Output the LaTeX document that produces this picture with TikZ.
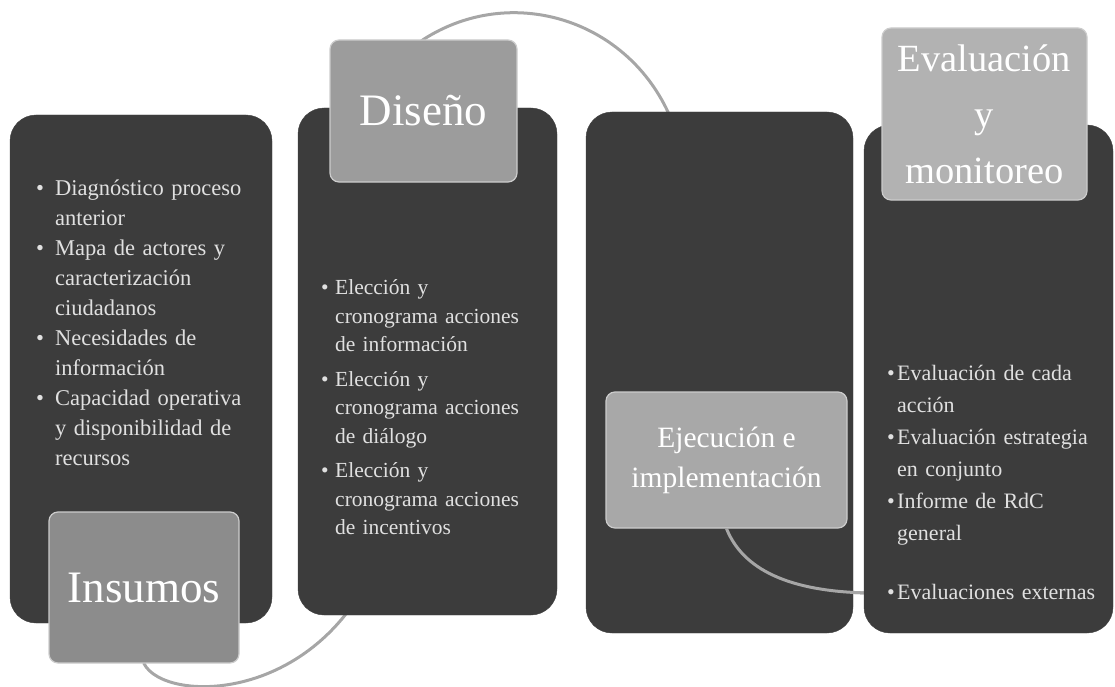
\documentclass[tikz,border=0pt]{standalone}
\usepackage{fontspec}
\setmainfont{Liberation Serif}
\usetikzlibrary{backgrounds}
\definecolor{boxgray}{HTML}{3C3C3C}
\definecolor{linkgray}{HTML}{A6A6A6}
\newcommand{\bul}[1]{\par\hangindent=#1\hangafter=1\noindent\makebox[#1][l]{\textbullet}}

\begin{document}
\begin{tikzpicture}[x=1pt,y=-1pt,
  panel/.style={draw=black!75,fill=boxgray,rounded corners=26pt,inner sep=0pt},
  tab/.style={draw=white!80!black,line width=1.2pt,rounded corners=9pt,inner sep=0pt,text=white,align=center},
  items/.style={anchor=base west,inner sep=0pt,text width=300pt,text=white!88!black},
  spiral/.style={draw=linkgray,line width=3pt}]
  \useasboundingbox (0,0) rectangle (1115,687);
  \node[panel,minimum width=262pt,minimum height=508pt] (insumosbox) at (141,369) {};
  \node[panel,minimum width=259pt,minimum height=507pt] (disenobox) at (427.5,361.5) {};
  \node[panel,minimum width=267pt,minimum height=521pt] (ejecucionbox) at (719.5,372.5) {};
  \node[tab,fill=black!45,minimum width=190pt,minimum height=151pt,font=\fontsize{45}{54}\selectfont] (insumos) at (144,587.5) {Insumos};
  \node[tab,fill=black!39,minimum width=187pt,minimum height=142pt,font=\fontsize{45}{54}\selectfont] (diseno) at (423.5,111) {Diseño};
  \node[tab,fill=black!34,minimum width=241pt,minimum height=136pt,font=\fontsize{29.5}{40}\selectfont] (ejecucion) at (726.5,460) {Ejecución e\\implementación};
  \coordinate (dip) at (385,540);
  \coordinate (arcend) at (668,112);
  \coordinate (turn) at (870,593);
  \path[spiral] (ejecucion.south) .. controls (745,575) and (800,592) .. (turn);
  \node[panel,minimum width=249pt,minimum height=508pt] (evaluacionbox) at (988.5,379) {};
  \node[tab,fill=black!30,minimum width=205pt,minimum height=172pt,font=\fontsize{38.5}{56}\selectfont] (evaluacion) at (984.5,114) {Evaluación\\y\\monitoreo};
  \node[items,font=\fontsize{22.5}{30}\selectfont] (insumostext) at (36,165) {\bul{19pt}Diagnóstico proceso\newline anterior
    \bul{19pt}Mapa de actores y\newline caracterización\newline ciudadanos
    \bul{19pt}Necesidades de\newline información
    \bul{19pt}Capacidad operativa\newline y disponibilidad de\newline recursos\par};
  \node[items,font=\fontsize{21.5}{28.5}\selectfont] (disenotext) at (321,260) {\setlength{\parskip}{6pt}\bul{14pt}Elección y\newline cronograma acciones\newline de información
    \bul{14pt}Elección y\newline cronograma acciones\newline de diálogo
    \bul{14pt}Elección y\newline cronograma acciones\newline de incentivos\par};
  \node[items,font=\fontsize{22}{32}\selectfont] (evaluaciontext) at (887,348) {\bul{10pt}Evaluación de cada\newline acción
    \bul{10pt}Evaluación estrategia\newline en conjunto
    \bul{10pt}Informe de RdC\newline general
    \par\vspace{27pt}\bul{10pt}Evaluaciones externas\par};
  \begin{pgfonlayer}{background}
    \path[spiral] (insumos.center) -- (insumos.south) .. controls (165,705) and (330,705) .. (dip)
      .. controls (404,483) and (373,70) .. (diseno.north)
      .. controls (510,-16) and (624,18) .. (arcend)
      .. controls (689,157) and (704,472) .. (ejecucion.south)
      .. controls (745,575) and (800,592) .. (turn)
      .. controls (950,595) and (984,300) .. (evaluacion.center);
  \end{pgfonlayer}
\end{tikzpicture}
\end{document}
